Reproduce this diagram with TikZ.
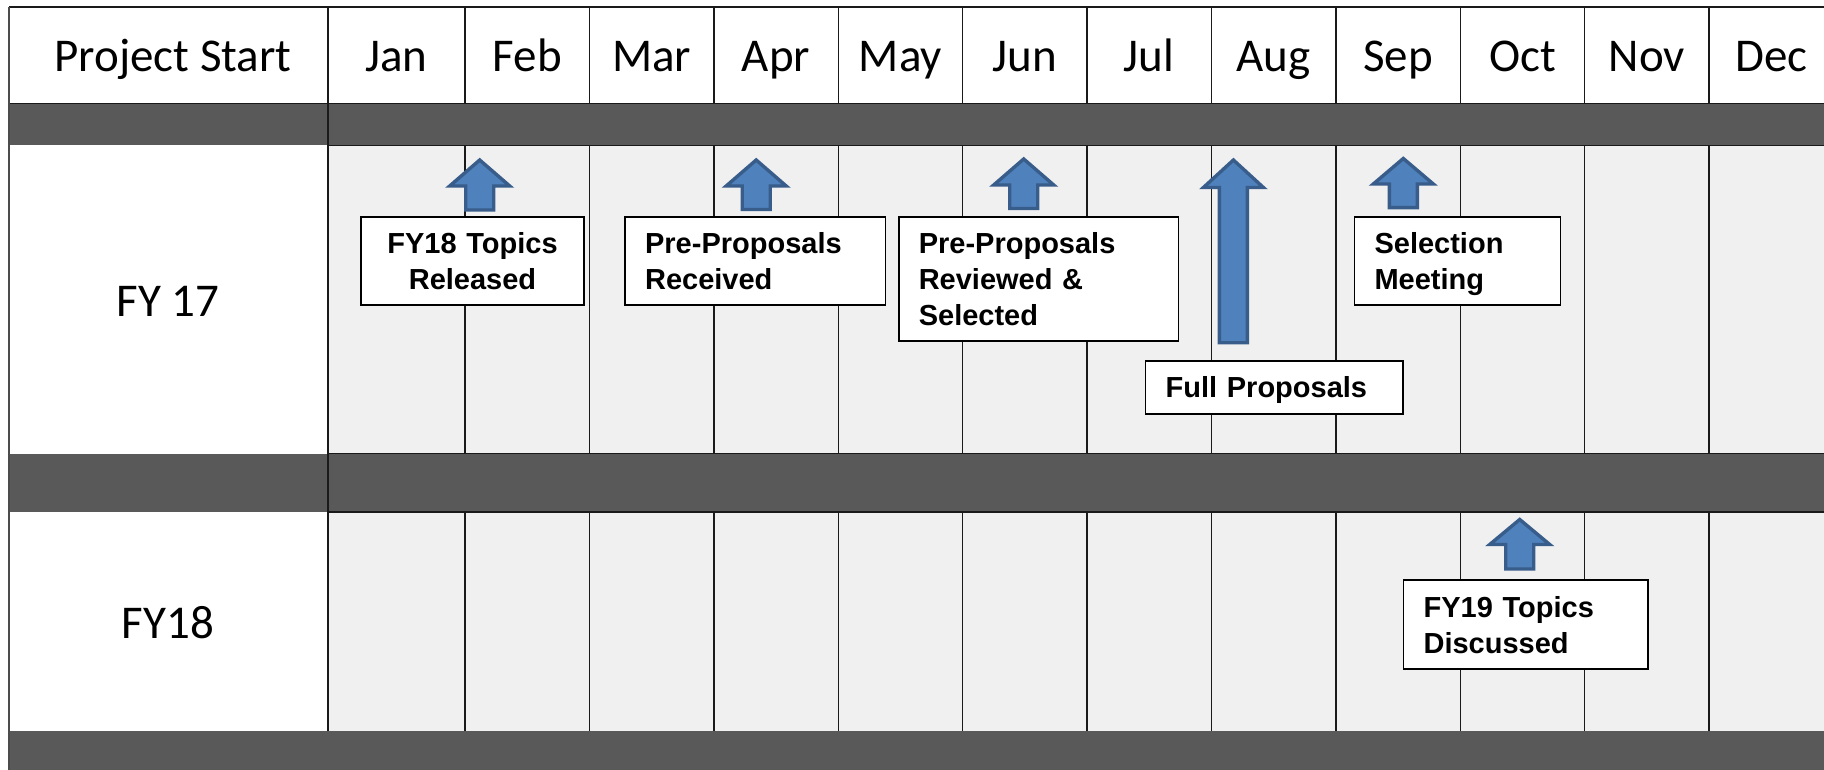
\documentclass[tikz,border=0pt]{standalone}
\usepackage{fontspec}
\setmainfont{Liberation Sans}
\newfontfamily\calfont{Carlito}
\definecolor{band}{HTML}{595959}
\definecolor{cellgray}{HTML}{F0F0F0}
\definecolor{arrowfill}{HTML}{4F81BD}
\definecolor{arrowline}{HTML}{385D8A}
\definecolor{gridline}{HTML}{1A1A1A}
\tikzset{
  hdr/.style={anchor=base, font=\calfont\fontsize{47}{56}\selectfont, inner sep=0pt},
  evbox/.style={draw=black, line width=1.6pt, fill=white, font=\bfseries\fontsize{29}{36}\selectfont, inner xsep=20pt, inner ysep=0pt, align=left,
    execute at begin node={\rule{0pt}{27pt}}, execute at end node={\rule[-6pt]{0pt}{6pt}}},
  blk/.style={fill=arrowfill, draw=arrowline, line width=3.4pt, line join=miter},
  gridln/.style={draw=gridline, line width=1.4pt},
}
\newcommand\blkarrow[4]{%
  \path[blk] (#1,#2) -- ({#1+30},#3) -- ({#1+14},#3) -- ({#1+14},#4) -- ({#1-14},#4) -- ({#1-14},#3) -- ({#1-30},#3) -- cycle;}
\begin{document}
\begin{tikzpicture}[x=1pt,y=-1pt]
\clip (0,0) rectangle (1824,770);
\fill[white] (0,0) rectangle (1824,770);
% body cells
\fill[cellgray] (328,145.5) rectangle (1840,453.5);
\fill[cellgray] (328,512) rectangle (1840,730.5);
% dark bands
\fill[band] (9,103.5) rectangle (1840,145.5);
\fill[band] (9,453.5) rectangle (1840,512);
\fill[band] (9,730.5) rectangle (1840,775);
% horizontal lines
\draw[gridln] (9,7) -- (1840,7);
\draw[gridln] (9,103.5) -- (1840,103.5);
\draw[gridln] (328,145.5) -- (1840,145.5);
\draw[gridln] (328,453.5) -- (1840,453.5);
\draw[gridln] (328,512) -- (1840,512);
% vertical lines
\draw[draw=black!70, line width=2pt] (9,7) -- (9,775);
\draw[gridln] (328,7) -- (328,730.5);
\foreach \xx in {465,589.4,713.8,838.2,962.6,1087,1211.4,1335.8,1460.2,1584.6,1709} {
  \draw[gridln] (\xx,7) -- (\xx,103.5);
  \draw[gridln] (\xx,145.5) -- (\xx,453.5);
  \draw[gridln] (\xx,512) -- (\xx,730.5);
}
% header texts
\node[hdr] (hPS) at (173,72) {Project Start};
\foreach \m/\cx in {Jan/396.5,Feb/527.2,Mar/651.6,Apr/776,May/900.4,Jun/1024.8,Jul/1149.2,Aug/1273.6,Sep/1398,Oct/1522.4,Nov/1646.8,Dec/1771.2} {
  \node[hdr] (h\m) at (\cx,72) {\m};
}
\node[hdr] (fy17) at (168,316.5) {FY 17};
\node[hdr] (fy18) at (168,638) {FY18};
% arrows
\blkarrow{479.7}{160}{186}{210}
\blkarrow{756.2}{160}{186}{209.5}
\blkarrow{1023.7}{159}{185}{208.5}
\blkarrow{1233.4}{160}{187.5}{342.7}
\blkarrow{1403.3}{158.5}{184}{207.7}
\blkarrow{1519.7}{519.5}{544.5}{569}
% event boxes
\node[evbox, align=center, text width=183.4pt, minimum height=88.4pt] (b1) at (472.5,261) {FY18 Topics\\Released};
\node[evbox, text width=220.2pt, minimum height=88.4pt] (b2) at (755.2,261) {Pre-Proposals\\Received};
\node[evbox, text width=239.6pt, minimum height=124pt] (b3) at (1038.6,278.9) {Pre-Proposals\\Reviewed \&\\Selected};
\node[evbox, text width=217.1pt, minimum height=53.4pt] (b4) at (1274.2,387.5) {Full Proposals};
\node[evbox, text width=165.9pt, minimum height=88.4pt] (b5) at (1457.5,261) {Selection\\Meeting};
\node[evbox, text width=204.7pt, minimum height=89.4pt] (b6) at (1525.9,624.5) {FY19 Topics\\Discussed};
\end{tikzpicture}
\end{document}
